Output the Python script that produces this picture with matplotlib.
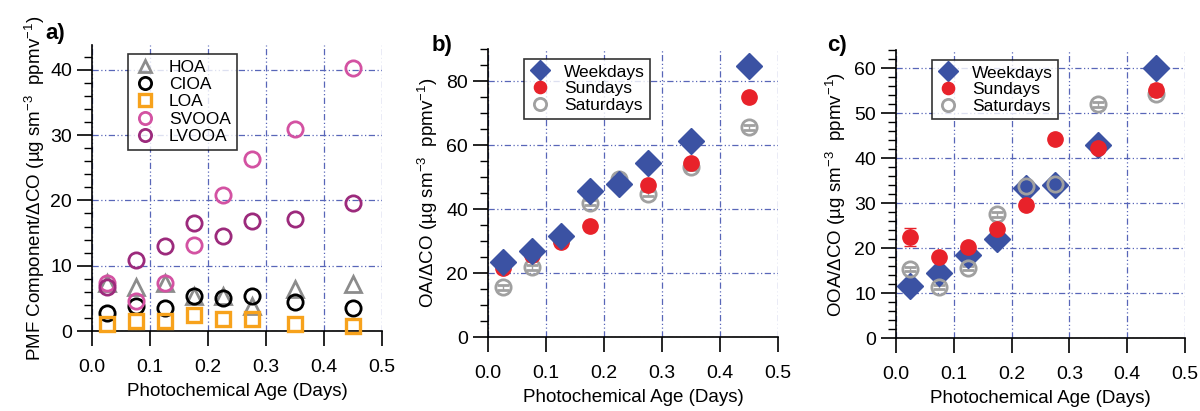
import matplotlib
matplotlib.use("Agg")
import matplotlib.pyplot as plt
from matplotlib.ticker import MultipleLocator

plt.rcParams['font.family'] = ['Liberation Sans', 'DejaVu Sans']
plt.rcParams['mathtext.fontset'] = 'custom'
plt.rcParams['mathtext.rm'] = 'Liberation Sans'
plt.rcParams['mathtext.it'] = 'Liberation Sans'

# Edad fotoquimica (dias)
age = [0.025, 0.075, 0.125, 0.175, 0.225, 0.275, 0.35, 0.45]

# Panel a: componentes PMF / dCO
hoa = [7.4, 6.7, 7.4, 5.4, 5.4, 3.8, 6.4, 7.2]
cioa = [2.8, 3.8, 3.5, 5.4, 5.1, 5.4, 4.4, 3.5]
loa = [1.0, 1.6, 1.6, 2.5, 1.9, 1.8, 1.1, 0.7]
svooa = [7.4, 4.6, 7.4, 13.2, 20.8, 26.3, 30.9, 40.3]
lvooa = [6.7, 10.9, 13.0, 16.5, 14.6, 16.9, 17.1, 19.6]

# Panel b: OA / dCO
oa_week = [23.6, 27.0, 31.7, 45.5, 47.8, 54.4, 61.2, 84.8]
oa_week_err = [0.8, 0.8, 0.8, 0.8, 0.8, 0.8, 0.8, 1.6]
oa_sun = [21.7, 25.7, 29.6, 34.6, 47.8, 47.6, 54.4, 74.9]
oa_sun_err = [0.8, 0.8, 0.8, 0.8, 0.8, 1.2, 1.2, 1.5]
oa_sat = [15.5, 21.8, 30.5, 42.0, 49.3, 44.8, 53.0, 65.6]
oa_sat_err = [0.8, 0.8, 0.8, 0.8, 0.8, 0.8, 0.8, 0.8]

# Panel c: OOA / dCO
ooa_week = [11.6, 14.4, 18.5, 21.9, 33.4, 34.0, 42.9, 60.0]
ooa_week_err = [0.5, 0.5, 0.5, 0.5, 0.5, 0.5, 0.5, 1.0]
ooa_sun = [22.4, 17.9, 20.2, 24.3, 29.5, 44.2, 42.2, 55.2]
ooa_sun_err = [2.0, 0.6, 0.6, 0.6, 0.6, 0.8, 0.6, 1.2]
ooa_sat = [15.3, 11.3, 15.6, 27.5, 33.8, 34.2, 51.9, 54.2]
ooa_sat_err = [0.5, 0.5, 0.5, 0.5, 0.5, 0.5, 0.5, 0.5]

GRID = '#5866b8'
BLUE = '#3b52a3'
RED = '#e8222a'
GRAY = '#a0a0a0'


def formato(ax, ymax, major, minor):
    ax.set_xlim(0, 0.5)
    ax.set_ylim(0, ymax)
    ax.xaxis.set_major_locator(MultipleLocator(0.1))
    ax.yaxis.set_major_locator(MultipleLocator(major))
    ax.yaxis.set_minor_locator(MultipleLocator(minor))
    ax.xaxis.set_major_formatter(plt.FuncFormatter(lambda v, p: '%.1f' % v))
    ax.spines['top'].set_visible(False)
    ax.spines['right'].set_visible(False)
    ax.spines['left'].set_linewidth(1.2)
    ax.spines['bottom'].set_linewidth(1.2)
    ax.tick_params(axis='x', direction='out', length=11, width=1.2, labelsize=14, pad=9)
    ax.tick_params(axis='y', which='major', direction='out', length=11, width=1.2, labelsize=14)
    ax.tick_params(axis='y', which='minor', direction='out', length=6, width=1.0)
    ax.grid(True, color=GRID, linestyle=(0, (5, 2, 1, 2, 1, 2)), linewidth=0.9)
    ax.set_axisbelow(True)
    ax.set_xlabel('Photochemical Age (Days)', fontsize=13.5, labelpad=5)


def leyenda(ax, handles, labels, anchor):
    leg = ax.legend(handles, labels, loc='upper left', bbox_to_anchor=anchor, fontsize=12.5,
                    frameon=True, fancybox=False, edgecolor='black', handletextpad=0.8,
                    labelspacing=0.1, borderpad=0.3, handlelength=1.2, markerscale=0.8)
    leg.get_frame().set_linewidth(1.2)


fig = plt.figure(figsize=(12, 4.11), dpi=100)

# ---- Panel a
ax1 = fig.add_axes([0.0767, 0.1946, 0.2417, 0.6959])
ax1.plot(age, hoa, '^', ms=11, mfc='none', mec='#8c8c8c', mew=2, label='HOA', clip_on=False)
ax1.plot(age, cioa, 'o', ms=11, mfc='none', mec='black', mew=2, label='CIOA', clip_on=False)
ax1.plot(age, loa, 's', ms=10.5, mfc='none', mec='#f7a21c', mew=2.4, label='LOA', clip_on=False, zorder=5)
ax1.plot(age, svooa, 'o', ms=11, mfc='none', mec='#d352a2', mew=2, label='SVOOA', clip_on=False)
ax1.plot(age, lvooa, 'o', ms=11, mfc='none', mec='#9c2a7c', mew=2, label='LVOOA', clip_on=False)
formato(ax1, 43.8, 10, 2)
ax1.set_ylabel('PMF Component/ΔCO (µg sm$^{-3}$  ppmv$^{-1}$)', fontsize=13.5, labelpad=2)
h, l = ax1.get_legend_handles_labels()
leg = ax1.legend(h, l, loc='upper left', bbox_to_anchor=(0.095, 1.0), fontsize=12.5, frameon=True,
                 fancybox=False, edgecolor='black', handletextpad=0.8, labelspacing=0.12,
                 borderpad=0.35, handlelength=1.2, markerscale=0.8)
leg.get_frame().set_linewidth(1.2)
fig.text(0.038, 0.905, 'a)', fontsize=16, fontweight='bold')

# ---- Panel b
ax2 = fig.add_axes([0.4067, 0.180, 0.2417, 0.7007])
sat = ax2.errorbar(age, oa_sat, yerr=oa_sat_err, fmt='o', ms=11, mfc='none', mec=GRAY, mew=2,
                   ecolor=GRAY, elinewidth=1, capsize=4)
sun = ax2.errorbar(age, oa_sun, yerr=oa_sun_err, fmt='o', ms=11, color=RED, ecolor=RED,
                   elinewidth=1, capsize=4)
week = ax2.errorbar(age, oa_week, yerr=oa_week_err, fmt='D', ms=13, color=BLUE, ecolor=BLUE,
                    elinewidth=1, capsize=4)
formato(ax2, 90, 20, 5)
ax2.set_ylabel('OA/ΔCO (µg sm$^{-3}$  ppmv$^{-1}$)', fontsize=13.5, labelpad=4)
leyenda(ax2, [week[0], sun[0], sat[0]], ['Weekdays', 'Sundays', 'Saturdays'], (0.095, 0.995))
fig.text(0.36, 0.875, 'b)', fontsize=16, fontweight='bold')

# ---- Panel c
ax3 = fig.add_axes([0.7467, 0.1776, 0.2408, 0.7007])
week = ax3.errorbar(age, ooa_week, yerr=ooa_week_err, fmt='D', ms=13, color=BLUE, ecolor=BLUE,
                    elinewidth=1, capsize=4)
sat = ax3.errorbar(age, ooa_sat, yerr=ooa_sat_err, fmt='o', ms=11, mfc='none', mec=GRAY, mew=2,
                   ecolor=GRAY, elinewidth=1, capsize=4)
sun = ax3.errorbar(age, ooa_sun, yerr=ooa_sun_err, fmt='o', ms=11, color=RED, ecolor=RED,
                   elinewidth=1, capsize=4)
formato(ax3, 64, 10, 2)
ax3.set_ylabel('OOA/ΔCO (µg sm$^{-3}$  ppmv$^{-1}$)', fontsize=13.5, labelpad=4)
leyenda(ax3, [week[0], sun[0], sat[0]], ['Weekdays', 'Sundays', 'Saturdays'], (0.095, 0.995))
fig.text(0.689, 0.875, 'c)', fontsize=16, fontweight='bold')

fig.savefig('out.png', dpi=100)
